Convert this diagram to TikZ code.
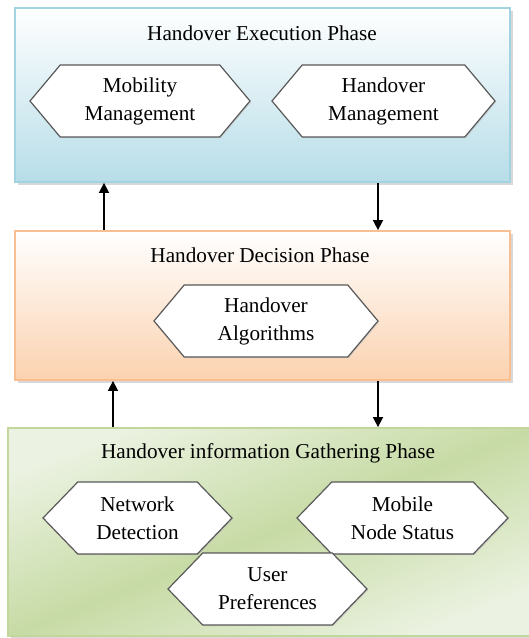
\documentclass[tikz,border=0pt]{standalone}
\usepackage{fontspec}
\setmainfont{Liberation Serif}
\usetikzlibrary{arrows.meta,shapes.symbols,shadows,positioning}

\definecolor{execblue}{HTML}{B7DDE8}
\definecolor{execline}{HTML}{A2D3E0}
\definecolor{decipeach}{HTML}{FBD2B0}
\definecolor{deciline}{HTML}{F9BF90}
\definecolor{gatherlight}{HTML}{EBF2E1}
\definecolor{gatherdark}{HTML}{C7DBA5}
\definecolor{gatherline}{HTML}{C3D69B}

\pgfdeclarehorizontalshading{gathershade}{100bp}{color(0bp)=(gatherlight); color(25bp)=(gatherlight); color(50bp)=(gatherdark); color(75bp)=(gatherlight); color(100bp)=(gatherlight)}

\begin{document}
\begin{tikzpicture}[x=0.5pt,y=-0.5pt,font=\fontsize{10.6}{14}\selectfont,
  phase/.style={rectangle,line width=0.9pt,drop shadow={shadow xshift=1.5pt,shadow yshift=-1.5pt,fill=black!30}},
  hexa/.style={signal,signal to=west and east,signal pointer angle=100,draw=black!65,fill=white,line width=0.6pt,
    minimum height=36pt,align=center,inner sep=1pt,drop shadow={shadow xshift=0.6pt,shadow yshift=-0.6pt,fill=black!25}},
  arr/.style={line width=0.8pt,-{Triangle[length=5pt,width=5pt]}}]
\useasboundingbox (0,0) rectangle (529,638);
\clip (0,0) rectangle (529,638);

% phase boxes
\node[phase,draw=execline,top color=white,bottom color=execblue,minimum width=247.5pt,minimum height=87pt] (exec) at (262.5,95) {};
\node[phase,draw=deciline,top color=white,bottom color=decipeach,minimum width=247.5pt,minimum height=74.5pt] (deci) at (262.5,305.5) {};
\node[phase,draw=gatherline,shading=gathershade,shading angle=-68.5,minimum width=264pt,minimum height=104pt] (gather) at (272,532) {};

\node (exectitle) at (262,33) {Handover Execution Phase};
\node (decititle) at (260,255) {Handover Decision Phase};
\node (gathertitle) at (268,453) {Handover information Gathering Phase};

% execution
\node[hexa,minimum width=110pt] (mobmgmt) at (140,101) {Mobility\\Management};
\node[hexa,minimum width=111.5pt] (homgmt) at (383.5,101) {Handover\\Management};

% decision
\node[hexa,minimum width=112pt] (algo) at (266,321) {Handover\\Algorithms};

% gathering
\node[hexa,signal pointer angle=92,minimum width=94.5pt] (netdet) at (137.5,518) {Network\\Detection};
\node[hexa,signal pointer angle=92,minimum width=105.5pt] (mnstatus) at (402.5,518) {Mobile\\Node Status};
\node[hexa,signal pointer angle=92,minimum width=99.5pt] (userpref) at (267.5,589) {User\\Preferences};

\coordinate (upA) at (104,0);
\coordinate (downA) at (378,0);
\coordinate (upB) at (113,0);
\coordinate (downB) at (378,0);

\draw[arr] (deci.north -| upA) -- (exec.south -| upA);
\draw[arr] (exec.south -| downA) -- (deci.north -| downA);
\draw[arr] (gather.north -| upB) -- (deci.south -| upB);
\draw[arr] (deci.south -| downB) -- (gather.north -| downB);
\end{tikzpicture}
\end{document}
